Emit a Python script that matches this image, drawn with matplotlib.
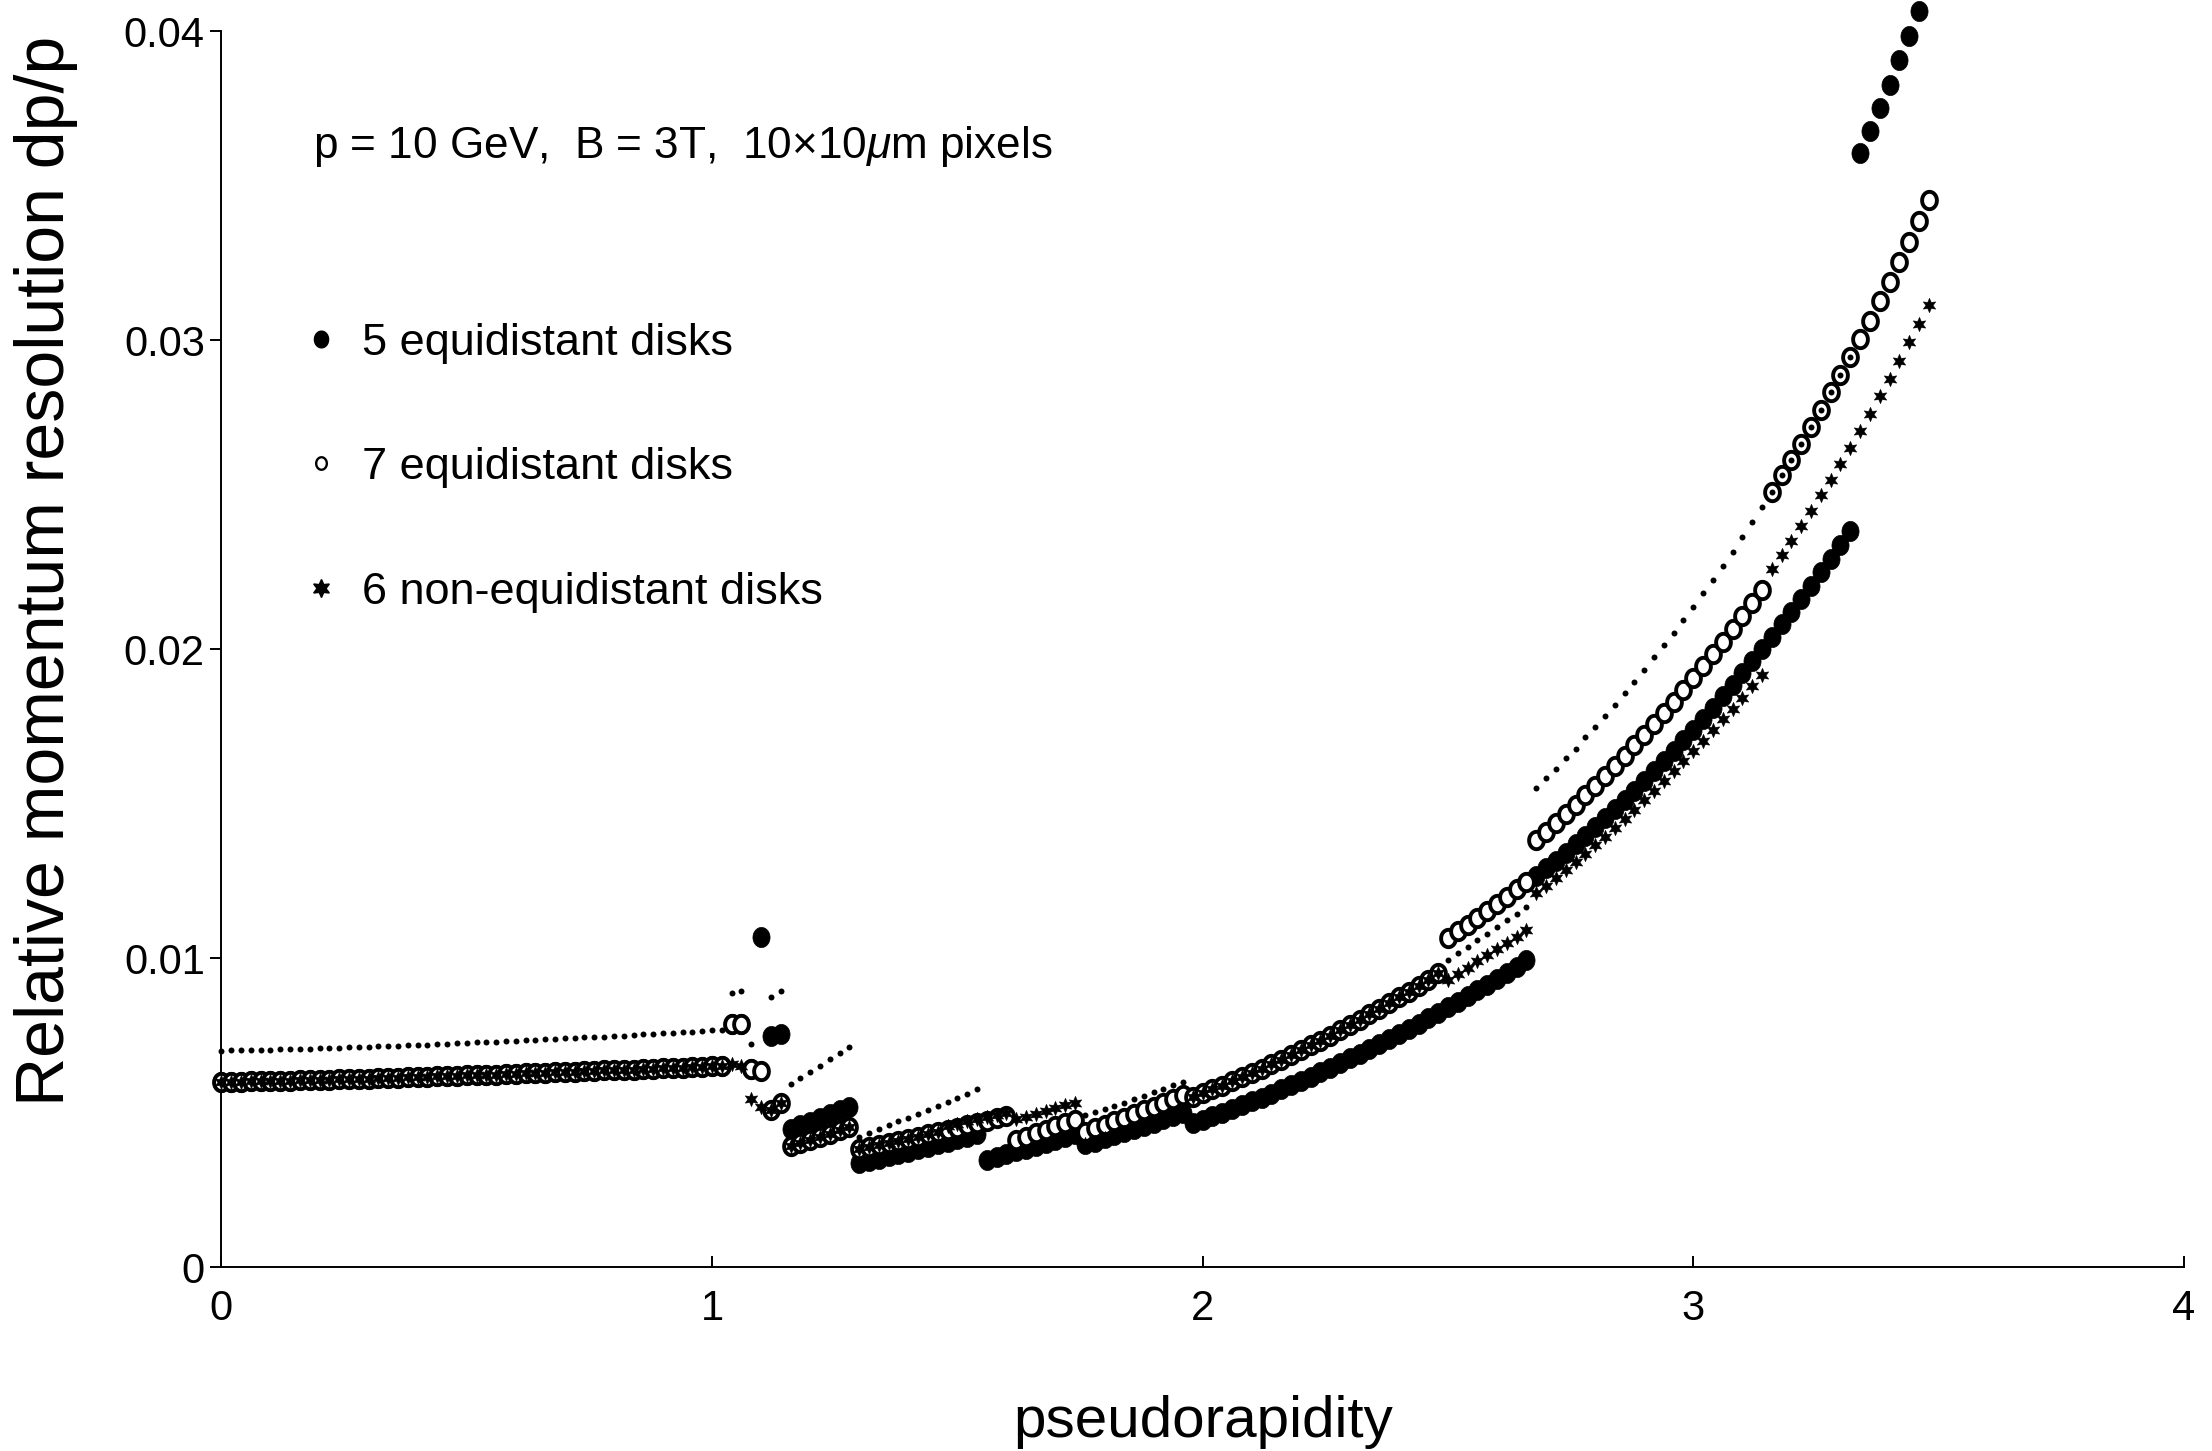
import numpy as np
import matplotlib
matplotlib.use('Agg')
import matplotlib.pyplot as plt
from matplotlib import font_manager
from matplotlib.path import Path
from matplotlib.lines import Line2D

nan = np.nan

# pseudorapidity sampled every 0.02 from 0 to 3.48
ETA_STEP = 0.02
N_POINTS = 175
eta = np.arange(N_POINTS) * ETA_STEP

# dp/p in units of 1e-3
# barrel part 0.00 - 1.02, identical for the three layouts
barrel = [6.00, 6.00, 6.00, 6.01, 6.01, 6.02, 6.02, 6.03, 6.04, 6.04,
          6.05, 6.06, 6.07, 6.08, 6.09, 6.10, 6.11, 6.12, 6.13, 6.14,
          6.15, 6.16, 6.17, 6.18, 6.19, 6.20, 6.21, 6.22, 6.23, 6.24,
          6.26, 6.27, 6.28, 6.29, 6.30, 6.31, 6.32, 6.33, 6.35, 6.36,
          6.37, 6.38, 6.39, 6.40, 6.42, 6.43, 6.44, 6.45, 6.46, 6.47,
          6.49, 6.50]
barrel_dots = [7.00, 7.01, 7.01, 7.02, 7.03, 7.03, 7.04, 7.05, 7.06, 7.07,
               7.08, 7.09, 7.10, 7.11, 7.12, 7.13, 7.14, 7.15, 7.16, 7.18,
               7.19, 7.20, 7.21, 7.23, 7.24, 7.25, 7.27, 7.28, 7.29, 7.31,
               7.32, 7.34, 7.35, 7.37, 7.38, 7.40, 7.41, 7.43, 7.44, 7.46,
               7.48, 7.49, 7.51, 7.53, 7.54, 7.56, 7.58, 7.60, 7.62, 7.64,
               7.66, 7.68]

# 7 equidistant disks (open circles)
open_gap = [7.85, 7.85, 6.40, 6.35, 5.08, 5.32]                     # 1.04-1.14
open_a = [3.92, 4.02, 4.12, 4.22, 4.32, 4.42, 4.52]                 # 1.16-1.28
open_b = [3.81, 3.87, 3.94, 4.01, 4.08, 4.15, 4.22, 4.29, 4.36, 4.43,
          4.50, 4.58, 4.65, 4.73, 4.81, 4.89]                       # 1.30-1.60
open_c = [4.11, 4.22, 4.33, 4.44, 4.55, 4.66, 4.76]                 # 1.62-1.74
open_d = [4.38, 4.49, 4.60, 4.71, 4.83, 4.95, 5.07, 5.19, 5.31, 5.44,
          5.57]                                                     # 1.76-1.96
open_e = [5.50, 5.62, 5.75, 5.87, 6.01, 6.14, 6.28, 6.42, 6.56, 6.71,
          6.86, 7.01, 7.17, 7.33, 7.49, 7.66, 7.83, 8.00, 8.18, 8.36,
          8.54, 8.73, 8.91, 9.11, 9.30, 9.50]                       # 1.98-2.48
open_f = [10.65, 10.86, 11.08, 11.30, 11.52, 11.75, 11.98, 12.22, 12.46]  # 2.50-2.66
open_g = [13.82, 14.09, 14.37, 14.66, 14.96, 15.26, 15.57, 15.88, 16.21, 16.54,
          16.88, 17.22, 17.57, 17.93, 18.30, 18.67, 19.05, 19.44, 19.83, 20.23,
          20.64, 21.06, 21.48, 21.91]                               # 2.68-3.14
open_h = [25.09, 25.62, 26.11, 26.65, 27.20, 27.75, 28.32, 28.87, 29.45, 30.02,
          30.63, 31.25, 31.87, 32.52, 33.18, 33.85, 34.52]          # 3.16-3.48

# 5 equidistant disks (filled circles)
filled_gap = [7.85, 7.85, 6.40, 10.67, 7.48, 7.54]                  # 1.04-1.14
filled_a = [4.46, 4.58, 4.70, 4.82, 4.95, 5.07, 5.19]               # 1.16-1.28
filled_b = [3.36, 3.43, 3.51, 3.58, 3.66, 3.73, 3.81, 3.89, 3.97, 4.05,
            4.13, 4.21, 4.30]                                       # 1.30-1.54
filled_c = [3.47, 3.56, 3.65, 3.74, 3.83, 3.92, 4.02, 4.11, 4.21, 4.30]  # 1.56-1.74
filled_d = [3.97, 4.06, 4.16, 4.26, 4.36, 4.46, 4.56, 4.67, 4.78, 4.89,
            5.00]                                                   # 1.76-1.96
filled_e = [4.65, 4.76, 4.88, 4.99, 5.11, 5.23, 5.36, 5.48, 5.61, 5.75,
            5.88, 6.02, 6.16, 6.30, 6.45, 6.60, 6.75, 6.90, 7.06, 7.22,
            7.38, 7.54, 7.71, 7.88, 8.05, 8.23, 8.40, 8.58, 8.76, 8.95,
            9.14, 9.33, 9.52, 9.72, 9.92]                           # 1.98-2.66
filled_f = [12.65, 12.90, 13.15, 13.41, 13.68, 13.95, 14.23, 14.52, 14.81, 15.11,
            15.42, 15.73, 16.05, 16.37, 16.71, 17.05, 17.39, 17.74, 18.10, 18.47,
            18.84, 19.22, 19.60, 20.00, 20.40, 20.80, 21.21, 21.63, 22.05, 22.49,
            22.92, 23.37, 23.82]                                    # 2.68-3.32
filled_g = [36.04, 36.75, 37.51, 38.26, 39.05, 39.83, 40.64]        # 3.34-3.46

# 6 non-equidistant disks (stars)
star_gap = [6.57, 6.50, 5.43, 5.19, 5.08, 5.32]                     # 1.04-1.14
star_b = [4.55, 4.63, 4.71, 4.79, 4.86, 4.93, 5.00]                 # 1.48-1.60
star_c = [4.78, 4.87, 4.96, 5.05, 5.14, 5.23, 5.32]                 # 1.62-1.74
star_f = [9.30, 9.49, 9.69, 9.89, 10.09, 10.29, 10.49, 10.69, 10.90]  # 2.50-2.66
star_g = [12.10, 12.34, 12.60, 12.85, 13.11, 13.38, 13.65, 13.93, 14.22, 14.51,
          14.80, 15.11, 15.41, 15.73, 16.04, 16.37, 16.70, 17.03, 17.37, 17.72,
          18.07, 18.43, 18.80, 19.17]                               # 2.68-3.14
star_h = [22.59, 23.04, 23.50, 23.99, 24.48, 24.98, 25.47, 25.99, 26.52, 27.07,
          27.62, 28.18, 28.75, 29.32, 29.93, 30.52, 31.14]          # 3.16-3.48

# small dotted series (not in the legend)
dot_gap = [8.88, 8.93, 7.21, nan, 8.75, 8.93]                       # 1.04-1.14
dot_a = [5.92, 6.12, 6.32, 6.52, 6.72, 6.92, 7.11]                  # 1.16-1.28
dot_b = [4.22, 4.34, 4.46, 4.58, 4.71, 4.83, 4.96, 5.09, 5.22, 5.35,
         5.48, 5.61, 5.75]                                          # 1.30-1.54
dot_d = [4.92, 5.02, 5.12, 5.22, 5.32, 5.43, 5.54, 5.65, 5.76, 5.88,
         6.00]                                                      # 1.76-1.96
dot_f = [9.94, 10.15, 10.36, 10.57, 10.79, 11.00, 11.22, 11.44, 11.66]  # 2.50-2.66
dot_g = [15.49, 15.82, 16.11, 16.46, 16.78, 17.14, 17.48, 17.83, 18.19, 18.57,
         18.94, 19.32, 19.73, 20.13, 20.53, 20.94, 21.37, 21.81, 22.23, 22.69,
         23.15, 23.62, 24.10, 24.61]                                # 2.68-3.14

open7 = (barrel + open_gap + open_a + open_b + open_c + open_d + open_e
         + open_f + open_g + open_h)
filled5 = (barrel + filled_gap + filled_a + filled_b + filled_c + filled_d
           + filled_e + filled_f + filled_g + [nan])
stars6 = (barrel + star_gap + open_a + open_b[:9] + star_b + star_c + filled_d
          + open_e + star_f + star_g + star_h)
dots = (barrel_dots + dot_gap + dot_a + dot_b + [nan] * 10 + dot_d + open_e
        + dot_f + dot_g + open_h[:9] + [nan] * 8)

for s in (open7, filled5, stars6, dots):
    assert len(s) == N_POINTS, len(s)

labels = ['5 equidistant disks', '7 equidistant disks', '6 non-equidistant disks']
x_ticks = [0, 1, 2, 3, 4]
y_ticks = [0, 0.01, 0.02, 0.03, 0.04]
y_tick_labels = ['0', '0.01', '0.02', '0.03', '0.04']

# fonts: narrow Helvetica look if available
names = {f.name for f in font_manager.fontManager.ttflist}
if 'Liberation Sans Narrow' in names:
    FONT = 'Liberation Sans Narrow'
    TICK_FS, TEXT_FS, NOTE_FS, XLAB_FS = 36, 39, 38, 50
else:
    FONT = 'Liberation Sans'
    TICK_FS, TEXT_FS, NOTE_FS, XLAB_FS = 30, 32.5, 31.8, 42
plt.rcParams['font.family'] = [FONT, 'DejaVu Sans']
plt.rcParams['mathtext.fontset'] = 'custom'
plt.rcParams['mathtext.rm'] = FONT
plt.rcParams['mathtext.it'] = FONT + ':italic'

# slightly tall oval marker, as in the original
theta = np.linspace(0, 2 * np.pi, 64)
oval = Path(np.column_stack([0.85 * np.cos(theta), np.sin(theta)]), closed=True)
star6 = (6, 1, 0)

fig = plt.figure(figsize=(22.12, 14.51), dpi=100)
ax = fig.add_axes([0.1001, 0.1268, 0.8872, 0.8518])

scale = 1e-3
ax.plot(eta, np.array(filled5) * scale, ls='none', marker=oval, ms=14.5,
        mfc='k', mec='k', mew=0.5, zorder=2, clip_on=False)
ax.plot(eta, np.array(open7) * scale, ls='none', marker=oval, ms=12.5,
        mfc='white', mec='k', mew=2.8, zorder=3, clip_on=False)
ax.plot(eta, np.array(stars6) * scale, ls='none', marker=star6, ms=10.5,
        mfc='k', mec='k', mew=0.3, zorder=4, clip_on=False)
ax.plot(eta, np.array(dots) * scale, ls='none', marker='o', ms=4.3,
        mfc='k', mec='k', mew=0, zorder=5, clip_on=False)

ax.set_xlim(0, 4)
ax.set_ylim(0, 0.04)
ax.set_xticks(x_ticks, [str(t) for t in x_ticks])
ax.set_yticks(y_ticks, y_tick_labels)
for side in ('top', 'right'):
    ax.spines[side].set_visible(False)
for side in ('left', 'bottom'):
    ax.spines[side].set_linewidth(1.4)
ax.tick_params(axis='y', direction='out', length=8, width=1.4, pad=4,
               labelsize=TICK_FS)
ax.tick_params(axis='x', direction='in', length=8, width=1.4, pad=16,
               labelsize=TICK_FS)

ax.text(0.187, 0.03626, r'p = 10 GeV,  B = 3T,  10$\times$10$\mathit{\mu}$m pixels',
        fontsize=NOTE_FS, ha='left', va='center')

handles = [
    Line2D([], [], ls='none', marker=oval, ms=12, mfc='k', mec='k'),
    Line2D([], [], ls='none', marker=oval, ms=9, mfc='white', mec='k', mew=1.7),
    Line2D([], [], ls='none', marker=star6, ms=13, mfc='k', mec='k'),
]
ax.legend(handles, labels, loc='upper left', bbox_to_anchor=(0.044, 0.764),
          frameon=False, handlelength=0.6, handletextpad=0.6, labelspacing=1.85,
          borderpad=0, borderaxespad=0, fontsize=TEXT_FS)

fig.text(0.544, 0.020, 'pseudorapidity', fontsize=XLAB_FS, ha='center', va='center')
fig.text(0.021, 0.6065, 'Relative momentum resolution dp/p', fontsize=49,
         family=['Liberation Sans', 'DejaVu Sans'], rotation=90,
         ha='center', va='center')

fig.savefig('out.png', dpi=100)
